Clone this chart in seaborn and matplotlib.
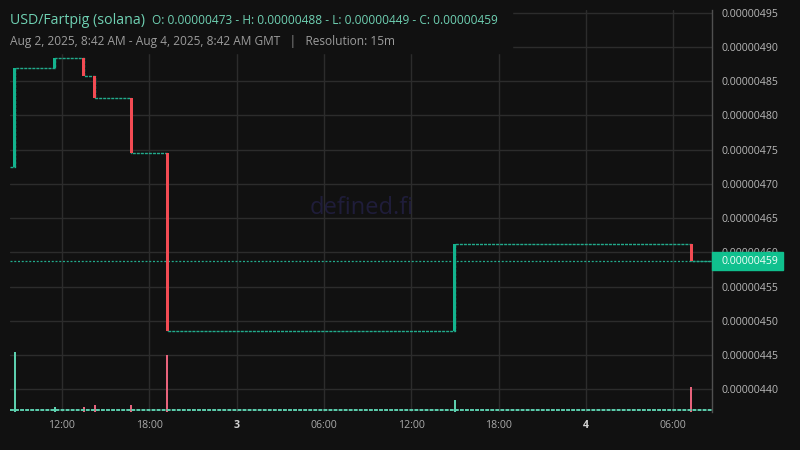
import matplotlib
matplotlib.use("Agg")
import matplotlib.pyplot as plt
import matplotlib.patches as mpatches
import matplotlib.transforms as mtransforms
import numpy as np
import pandas as pd
import seaborn as sns

# candles that actually traded (15m resolution), prices in USD
candle_times = pd.to_datetime([
    "2025-08-02 08:45", "2025-08-02 11:30", "2025-08-02 13:30", "2025-08-02 14:15",
    "2025-08-02 16:45", "2025-08-02 19:15", "2025-08-03 15:00", "2025-08-04 07:15",
])
candle_open = np.array([4.725, 4.869, 4.884, 4.858, 4.826, 4.745, 4.486, 4.612]) * 1e-6
candle_close = np.array([4.869, 4.884, 4.858, 4.826, 4.745, 4.486, 4.612, 4.587]) * 1e-6
candle_volume = [1150, 105, 105, 140, 140, 1100, 235, 480]

session_start = pd.Timestamp("2025-08-02 08:25")
session_end = pd.Timestamp("2025-08-04 08:36")
first_price = 4.725e-6
last_price = 4.587e-6

y_ticks = np.arange(440, 496, 5) * 1e-8
x_tick_times = pd.to_datetime([
    "2025-08-02 12:00", "2025-08-02 18:00", "2025-08-03 00:00", "2025-08-03 06:00",
    "2025-08-03 12:00", "2025-08-03 18:00", "2025-08-04 00:00", "2025-08-04 06:00",
])
x_tick_labels = ["12:00", "18:00", "3", "06:00", "12:00", "18:00", "4", "06:00"]

BG = "#111111"
GREEN = "#13b48e"
RED = "#f24b53"
VOL_GREEN = "#5ccfae"
VOL_RED = "#e8637c"
LINE_TEAL = "#22ab8c"

sns.set_theme(style="dark", rc={"axes.facecolor": BG, "figure.facecolor": BG})
plt.rcParams["font.family"] = ["Open Sans", "DejaVu Sans"]

fig = plt.figure(figsize=(8, 4.5), dpi=100)
rect = [10 / 800, 38 / 450, 702 / 800, 402 / 450]
ax = fig.add_axes(rect)
ax.set_facecolor(BG)

# flat (no trade) stretches drawn as a dashed step line
step_df = pd.DataFrame({
    "time": [session_start] + list(candle_times) + [session_end],
    "price": [first_price] + list(candle_close) + [last_price],
})
sns.lineplot(data=step_df, x="time", y="price", drawstyle="steps-post", estimator=None,
             color=LINE_TEAL, linewidth=1.0, linestyle=(0, (2.2, 0.7)), ax=ax, zorder=3)

# candle bodies
bar_w = 12.5 / 1440
colors = [GREEN if c >= o else RED for o, c in zip(candle_open, candle_close)]
ax.bar(candle_times, candle_close - candle_open, bottom=candle_open, width=bar_w,
       color=colors, linewidth=0, zorder=4)

# last price line
ax.axhline(last_price, color=LINE_TEAL, linewidth=0.9, linestyle=(0, (1.6, 1.4)), zorder=2)

x0 = pd.Timestamp("2025-08-02 08:26")
x1 = pd.Timestamp("2025-08-04 08:40")
ax.set_xlim(x0, x1)
ax.set_ylim(4.367e-6, 4.954e-6)

ax.yaxis.tick_right()
ax.set_yticks(y_ticks)
ax.set_yticklabels([f"{v:.8f}" for v in y_ticks])
ax.set_xticks(x_tick_times)
ax.set_xticklabels(x_tick_labels)
ax.tick_params(axis="y", colors="#b8b8b8", labelsize=7.6, length=0, pad=7)
ax.tick_params(axis="x", colors="#aaaaaa", labelsize=7.6, length=0, pad=6)
for lbl in ax.get_xticklabels():
    if lbl.get_text() in ("3", "4"):
        lbl.set_fontweight("bold")
        lbl.set_color("#d4d4d4")
ax.grid(True, color="#2c2c2c", linewidth=1)
ax.set_xlabel("")
ax.set_ylabel("")
for s in ["left", "top", "bottom"]:
    ax.spines[s].set_visible(False)
ax.spines["right"].set_color("#505050")
ax.spines["right"].set_linewidth(1)

# watermark
ax.text(0.501, 0.508, "defined.fi", transform=ax.transAxes, ha="center", va="center",
        fontsize=17, color="#1f1d3a", zorder=1)

# volume overlay
ax_vol = fig.add_axes(rect, sharex=ax)
ax_vol.set_facecolor("none")
ax_vol.axis("off")
vol_colors = [VOL_GREEN if c >= o else VOL_RED for o, c in zip(candle_open, candle_close)]
ax_vol.bar(candle_times, candle_volume, width=bar_w * 0.7, color=vol_colors, linewidth=0)
vmax = max(candle_volume) * 6.7
ax_vol.set_ylim(0, vmax)
ax_vol.axhline(vmax * 0.004, color=VOL_GREEN, linewidth=1.4, linestyle=(0, (2.0, 0.6)))
ax_vol.set_xlim(x0, x1)

# last price badge on the right scale
trans = mtransforms.blended_transform_factory(ax.transAxes, ax.transData)
badge_h = 2.63e-8
ax.add_patch(mpatches.Rectangle((1.0, last_price - badge_h / 2), 71 / 702, badge_h,
                                transform=trans, color="#10c08e", clip_on=False, zorder=10))
ax.text(1.0 + 10 / 702, last_price, f"{last_price:.8f}", transform=trans, ha="left",
        va="center", fontsize=7.6, color="#f2fff9", zorder=11, clip_on=False)

# legend header box
fig.patches.append(mpatches.Rectangle((0, 1 - 53 / 450), 512 / 800, 53 / 450,
                                      transform=fig.transFigure, color=BG, zorder=5))
fig.text(10 / 800, 1 - 20 / 450, "USD/Fartpig (solana)", fontsize=10.2, color="#6fd1b3",
         va="center", zorder=6)
fig.text(152 / 800, 1 - 20 / 450,
         "O: 0.00000473 - H: 0.00000488 - L: 0.00000449 - C: 0.00000459",
         fontsize=8.6, color="#6fd1b3", va="center", zorder=6)
fig.text(10 / 800, 1 - 41 / 450,
         "Aug 2, 2025, 8:42 AM - Aug 4, 2025, 8:42 AM GMT   |   Resolution: 15m",
         fontsize=8.6, color="#9c9c9c", va="center", zorder=6)

fig.savefig("out.png", dpi=100, facecolor=BG)
